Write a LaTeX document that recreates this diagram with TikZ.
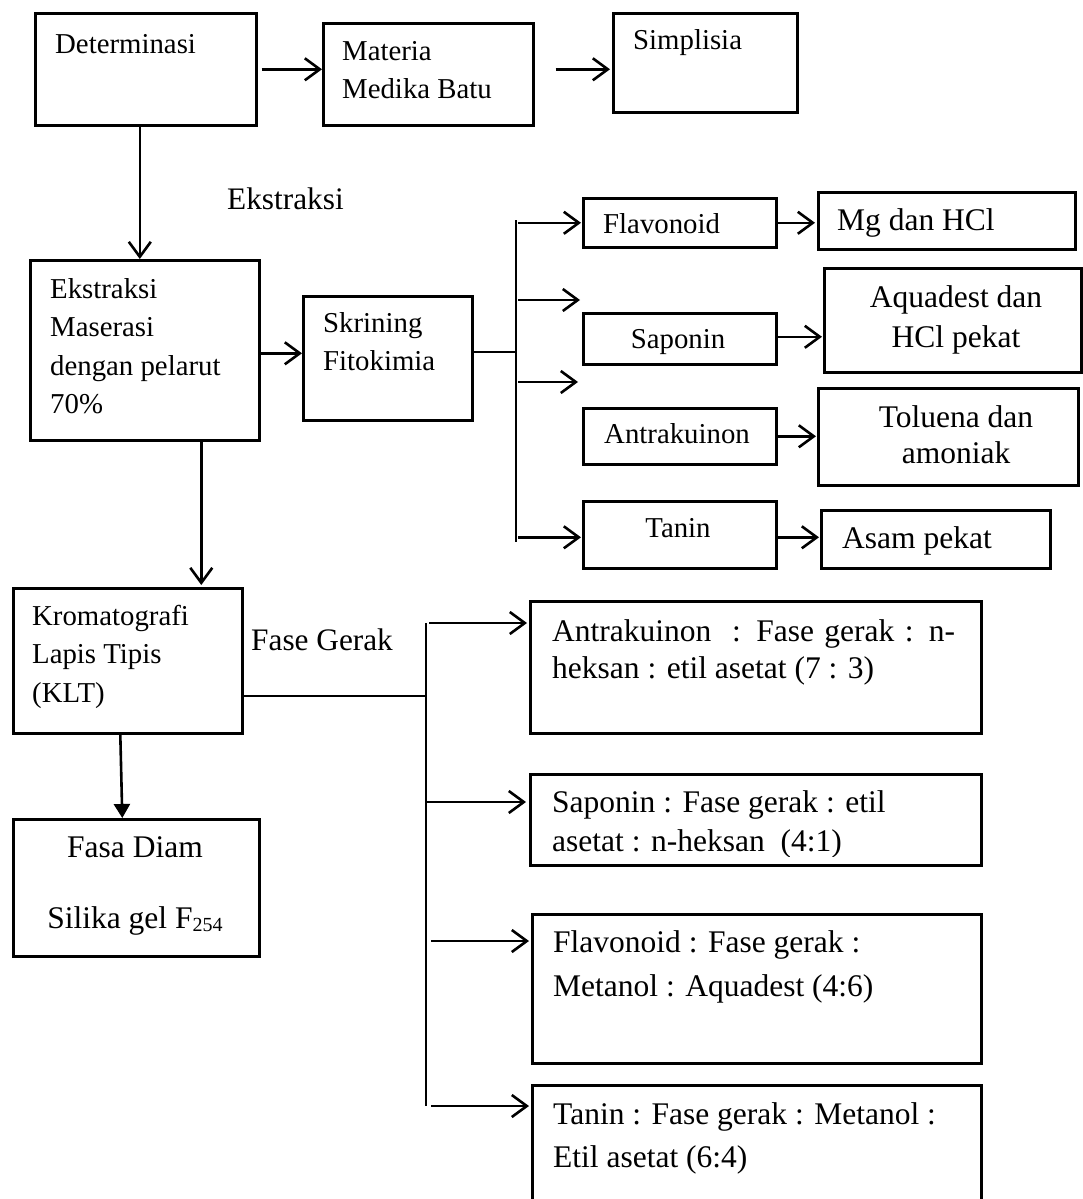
\documentclass[tikz,border=0pt]{standalone}
\usepackage{fontspec}
\setmainfont{Liberation Serif}
\usetikzlibrary{arrows.meta}
\newcommand\lns[2]{\vtop{\baselineskip=#1\lineskiplimit=-100pt\halign{##\hfil\cr#2\crcr}}}
\newcommand\clns[2]{\vtop{\baselineskip=#1\lineskiplimit=-100pt\halign{\hfil##\hfil\cr#2\crcr}}}
\tikzset{
  bx/.style={draw, line width=2.6pt, rectangle, inner sep=0pt, anchor=north west},
  txt/.style={anchor=base west, inner sep=0pt, font=\fontsize{28.8}{38}\selectfont},
  ctxt/.style={anchor=base, inner sep=0pt, font=\fontsize{28.8}{38}\selectfont},
  btxt/.style={anchor=base west, inner sep=0pt, font=\fontsize{31.5}{38}\selectfont},
  bctxt/.style={anchor=base, inner sep=0pt, font=\fontsize{31.5}{38}\selectfont},
  lbl/.style={anchor=base west, inner sep=0pt, font=\fontsize{31.3}{38}\selectfont},
  ln/.style={line width=2.6pt},
  arr/.style={line width=2.6pt, -{Straight Barb[length=15pt,width=22pt,line width=2.6pt]}},
  farr/.style={line width=2.6pt, -{Triangle[length=14pt,width=16pt]}}
}
\newcommand\bx[5]{\node[bx, minimum width={#4-#2}, minimum height={#5-#3}] (#1) at (#2,#3) {};}
\begin{document}
\begin{tikzpicture}[x=1pt,y=-1pt]
\useasboundingbox (0,0) rectangle (1083,1199);
% boxes
\bx{det}{34}{12}{255}{124}
\bx{mat}{322}{22}{532}{124}
\bx{sim}{612}{12}{796}{111}
\bx{ek}{29}{259}{258}{439}
\bx{skr}{302}{295}{471}{419}
\bx{flav}{582}{197}{775}{246}
\bx{mg}{817}{191}{1074}{248}
\bx{sap}{582}{312}{775}{363}
\bx{aq}{823}{267}{1080}{371}
\bx{ant}{582}{407}{775}{463}
\bx{tol}{817}{387}{1077}{484}
\bx{tan}{582}{500}{775}{567}
\bx{asam}{820}{509}{1049}{567}
\bx{klt}{12}{587}{241}{732}
\bx{fd}{12}{818}{258}{955}
\bx{r1}{529}{600}{980}{732}
\bx{r2}{529}{773}{980}{864}
\bx{r3}{531}{913}{980}{1062}
\bx{r4}{531}{1084}{980}{1215}
% texts
\node[txt] (det-t) at (55,53) {Determinasi};
\node[txt] (mat-t) at (342,61) {\lns{38pt}{Materia\cr Medika Batu}};
\node[txt] (sim-t) at (633,50) {Simplisia};
\node[lbl] (ekstr) at (227,209) {Ekstraksi};
\node[txt] (ek-t) at (50,298) {\lns{38.5pt}{Ekstraksi\cr Maserasi\cr dengan pelarut\cr 70\%}};
\node[txt] (skr-t) at (323,332) {\lns{38pt}{Skrining\cr Fitokimia}};
\node[txt] (flav-t) at (603,233) {Flavonoid};
\node[btxt] (mg-t) at (837,230) {Mg dan HCl};
\node[ctxt] (sap-t) at (678,348) {Saponin};
\node[bctxt] (aq-t) at (956,307) {\clns{40pt}{Aquadest dan\cr HCl pekat}};
\node[ctxt] (ant-t) at (677,443) {Antrakuinon};
\node[bctxt] (tol-t) at (956,427) {\clns{36pt}{Toluena dan\cr amoniak}};
\node[ctxt] (tan-t) at (678,537) {Tanin};
\node[btxt] (asam-t) at (842,548) {Asam pekat};
\node[txt] (klt-t) at (32,625) {\lns{38.5pt}{Kromatografi\cr Lapis Tipis\cr (KLT)}};
\node[lbl] (fg) at (251,650) {Fase Gerak};
\node[bctxt] (fd-t) at (135,857) {\clns{71pt}{Fasa Diam\cr Silika gel F\raisebox{-0.12em}{\fontsize{20}{20}\selectfont 254}}};
\node[btxt] (r1-t) at (552,641) {\lns{37pt}{\makebox[403pt][s]{Antrakuinon\ \ : Fase gerak : n-}\cr heksan : etil asetat (7 : 3)}};
\begin{scope}
\clip (529,773) rectangle (980,856);
\node[btxt] (r2-t) at (552,812) {\lns{39pt}{Saponin : Fase gerak : etil\cr asetat : n-heksan\ \ (4:1)}};
\end{scope}
\node[btxt] (r3-t) at (553,952) {\lns{44pt}{Flavonoid : Fase gerak :\cr Metanol : Aquadest (4:6)}};
\node[btxt] (r4-t) at (553,1124) {\lns{43pt}{Tanin : Fase gerak : Metanol :\cr Etil asetat (6:4)}};
% connectors top
\draw[arr] ([xshift=4pt]det.east) -- (det.east -| mat.west);
\draw[arr] ([xshift=21pt]mat.east |- det.east) -- ([xshift=-2pt]sim.west |- det.east);
\draw[arr] ([xshift=-6pt]det.south) -- ([xshift=-6pt]det.south |- ek.north);
\draw[arr] ([yshift=-3pt]ek.east) -- ([yshift=-3pt]ek.east -| skr.west);
% screening hub
\coordinate (h1) at (516,352);
\coordinate (h1top) at (516,220);
\coordinate (h1bot) at (516,542);
\coordinate (e1) at (580,300);
\coordinate (e2) at (578,382);
\draw[ln] (skr.east |- h1) -- (h1);
\draw[ln] (h1top) -- (h1bot);
\draw[arr] ([xshift=2pt]flav.west -| h1) -- ([xshift=-1pt]flav.west);
\draw[arr] ([xshift=2pt]e1 -| h1) -- (e1);
\draw[arr] ([xshift=2pt]e2 -| h1) -- (e2);
\draw[arr] ([xshift=2pt,yshift=-2.5pt]tan.west -| h1) -- ([xshift=-1pt,yshift=-2.5pt]tan.west);
\draw[arr] (flav.east) -- ([xshift=-2pt]flav.east -| mg.west);
\draw[arr] ([yshift=2pt]sap.east) -- ([xshift=-1pt,yshift=2pt]sap.east -| aq.west);
\draw[arr] (ant.east) -- ([xshift=-1pt]ant.east -| tol.west);
\draw[arr] ([yshift=-2.5pt]tan.east) -- ([xshift=-1pt,yshift=-2.5pt]tan.east -| asam.west);
% down to KLT
\draw[arr] ([xshift=56.5pt]ek.south) -- ([xshift=56.5pt,yshift=2pt]ek.south |- klt.north);
\draw[farr] ([xshift=-7.5pt]klt.south) -- ([xshift=-5.5pt]klt.south |- fd.north);
% KLT hub
\coordinate (h2) at (426,696);
\coordinate (h2top) at (426,623);
\coordinate (h2bot) at (426,1106);
\coordinate (b2) at (426,802);
\coordinate (b3) at (426,941);
\draw[ln] (klt.east |- h2) -- (h2);
\draw[ln] (h2top) -- (h2bot);
\draw[arr] ([xshift=3pt]h2top) -- ([xshift=-2pt]h2top -| r1.west);
\draw[arr] (b2) -- ([xshift=-3pt]b2 -| r2.west);
\draw[arr] ([xshift=5pt]b3) -- ([xshift=-2pt]b3 -| r3.west);
\draw[arr] ([xshift=5pt]h2bot) -- ([xshift=-2pt]h2bot -| r4.west);
\end{tikzpicture}
\end{document}
